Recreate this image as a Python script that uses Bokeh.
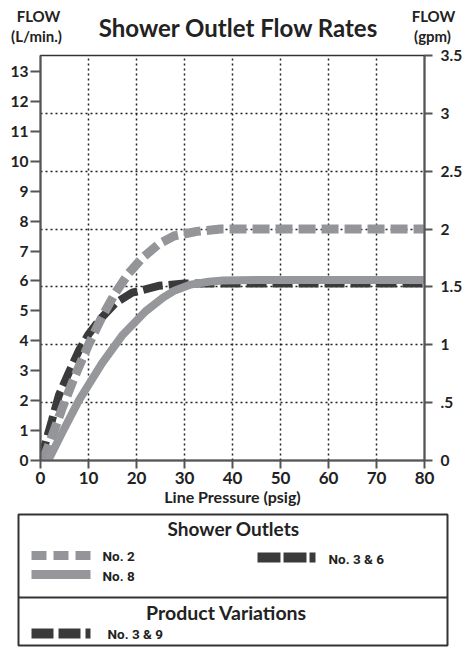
from bokeh.plotting import figure
from bokeh.models import Range1d, LinearAxis, FixedTicker, CustomJSTickFormatter, Label
from bokeh.embed import file_html
from bokeh.resources import INLINE

# ---- data (flow in gpm vs line pressure in psig) ----
pressure_no2 = [0.5, 2.5, 4.5, 6.5, 8, 10, 12.8, 15.6, 18.4, 21.2, 24.6, 27.8, 32.6, 37.5, 45, 60, 80]
flow_no2 = [0, 0.22, 0.45, 0.66, 0.81, 1.0, 1.24, 1.45, 1.62, 1.75, 1.87, 1.94, 1.98, 2.0, 2.0, 2.0, 2.0]

pressure_no36 = [0, 2.4, 3.8, 5.9, 8, 10, 12.2, 15.6, 19.1, 24.6, 30, 35, 40, 50, 60, 70, 80]
flow_no36 = [0, 0.35, 0.56, 0.76, 0.95, 1.09, 1.21, 1.36, 1.45, 1.51, 1.53, 1.53, 1.53, 1.53, 1.53, 1.53, 1.53]

pressure_no8 = [1.6, 4.5, 8, 12.8, 17, 21.9, 25.6, 28, 31.3, 35, 38, 45, 60, 80]
flow_no8 = [0, 0.24, 0.52, 0.84, 1.08, 1.29, 1.41, 1.47, 1.52, 1.545, 1.555, 1.56, 1.56, 1.56]

x_ticks = [0, 10, 20, 30, 40, 50, 60, 70, 80]
gpm_ticks = [0, 0.5, 1, 1.5, 2, 2.5, 3, 3.5]
lpm_ticks = list(range(0, 14))
grid_x = [10, 20, 30, 40, 50, 60, 70]
grid_gpm = [0.5, 1, 1.5, 2, 2.5, 3]

FONT = "Lato"
NARROW = "Roboto"
TXT = "#222222"
AX = "#555555"

# ---- header panel ----
h = figure(width=466, height=45, x_range=Range1d(0, 466), y_range=Range1d(45, 0),
           x_axis_location=None, y_axis_location=None, output_backend="svg",
           toolbar_location=None, min_border=0)
h.outline_line_color = None
h.grid.visible = False

def hlab(x, y, text, size):
    h.add_layout(Label(x=x, y=y, text=text, text_align="center", text_baseline="middle",
                       text_font=FONT, text_font_style="bold", text_font_size=size,
                       text_color=TXT))

hlab(238, 27, "Shower Outlet Flow Rates", "24px")
hlab(38, 15, "FLOW", "15px")
hlab(36, 35, "(L/min.)", "15px")
hlab(433, 15, "FLOW", "15px")
hlab(432, 35, "(gpm)", "15px")

# ---- chart ----
p = figure(width=466, height=467, x_range=Range1d(0, 80), y_range=Range1d(0, 3.5),
           y_axis_location="right", output_backend="svg", toolbar_location=None,
           min_border_left=40, min_border_right=42, min_border_top=10, min_border_bottom=52)
p.extra_y_ranges = {"lpm": Range1d(0, 13.535)}
left = LinearAxis(y_range_name="lpm", ticker=FixedTicker(ticks=lpm_ticks))
p.add_layout(left, "left")
right = p.right[0]

p.xaxis.ticker = FixedTicker(ticks=x_ticks)
right.ticker = FixedTicker(ticks=gpm_ticks)
right.formatter = CustomJSTickFormatter(
    code="const s = tick.toString(); return s.startsWith('0.') ? s.slice(1) : s;")

for ax in [p.below[0], left, right]:
    ax.axis_line_color = AX
    ax.axis_line_width = 2
    ax.major_tick_line_color = AX
    ax.major_tick_line_width = 2
    ax.major_tick_in = 0
    ax.minor_tick_line_color = None
    ax.major_label_text_font = FONT
    ax.major_label_text_font_style = "bold"
    ax.major_label_text_font_size = "15.5px"
    ax.major_label_text_color = TXT

left.major_tick_out = 10
left.major_label_standoff = 2
right.major_tick_out = 8
right.major_label_standoff = 8
p.xaxis.major_tick_out = 8
p.xaxis.major_label_standoff = 3
p.xaxis.major_label_text_font_size = "17px"
p.xaxis.axis_label = "Line Pressure (psig)"
p.xaxis.axis_label_text_font = FONT
p.xaxis.axis_label_text_font_style = "bold"
p.xaxis.axis_label_text_font_size = "16px"
p.xaxis.axis_label_text_color = TXT
p.xaxis.axis_label_standoff = 0

p.xgrid.ticker = FixedTicker(ticks=grid_x)
p.ygrid.ticker = FixedTicker(ticks=grid_gpm)
for g in p.grid:
    g.grid_line_color = "#222222"
    g.grid_line_width = 1.5
    g.grid_line_dash = "2 3"

p.outline_line_color = "#333333"
p.outline_line_width = 1.5

p.line(pressure_no36, flow_no36, line_color="#3a3a3a", line_width=8, line_dash="20 6")
p.line(pressure_no2, flow_no2, line_color="#949598", line_width=9, line_dash="17 6")
p.line(pressure_no8, flow_no8, line_color="#96979a", line_width=8)

# ---- legend panel ----
q = figure(width=466, height=135, x_range=Range1d(0, 466), y_range=Range1d(135, 0),
           x_axis_location=None, y_axis_location=None, output_backend="svg",
           toolbar_location=None, min_border=0)
q.outline_line_color = None
q.grid.visible = False
q.quad(left=18, right=447, top=2, bottom=133, fill_color=None, line_color="#333333", line_width=2)
q.segment(x0=18, y0=85, x1=447, y1=85, line_color="#333333", line_width=2)

q.line([31, 90], [43, 43], line_color="#949598", line_width=9, line_dash="15 7")
q.line([31, 90], [62, 62], line_color="#96979a", line_width=9)
q.line([257, 315], [45, 45], line_color="#3a3a3a", line_width=10, line_dash="23 3")
q.line([31, 90], [121, 121], line_color="#3a3a3a", line_width=10, line_dash="22 5")

def qlab(x, y, text, size, align="left", font=NARROW):
    q.add_layout(Label(x=x, y=y, text=text, text_align=align, text_baseline="middle",
                       text_font=font, text_font_style="bold", text_font_size=size,
                       text_color=TXT))

qlab(233, 16, "Shower Outlets", "19px", "center", FONT)
qlab(226, 100, "Product Variations", "19.5px", "center", FONT)
qlab(102, 43, "No. 2", "13.5px")
qlab(102, 63, "No. 8", "13.5px")
qlab(328, 46, "No. 3 & 6", "13.5px")
qlab(107, 121, "No. 3 & 9", "13.5px")

open("out.html", "w").write(file_html([h, p, q], INLINE))
